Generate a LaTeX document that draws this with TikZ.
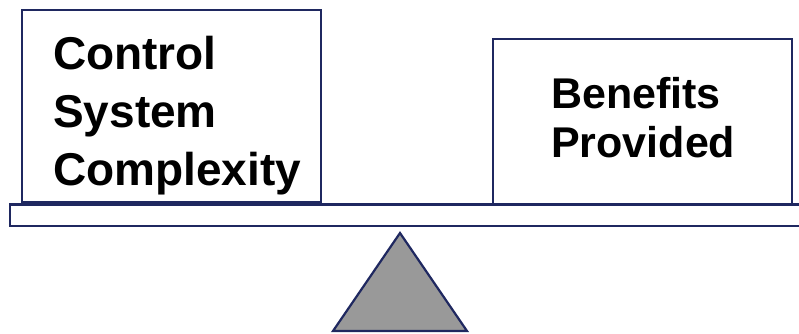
\documentclass[tikz,border=0pt]{standalone}
\usepackage{fontspec}
\setmainfont{Liberation Sans}
\definecolor{navy}{RGB}{31,40,96}
\definecolor{pivotgray}{RGB}{153,153,153}
\tikzset{
  frame/.style={draw=navy, line width=2.2pt},
  weight/.style={font=\bfseries\fontsize{46}{58}\selectfont, align=left, inner sep=0pt, anchor=base west},
}
\begin{document}
\begin{tikzpicture}[x=1pt, y=-1pt]
  \useasboundingbox (0,0) rectangle (799,334);
  \begin{scope}
    \clip (0,0) rectangle (799,334);
    % lever beam, running off the right edge
    \draw[frame, fill=white] (10,204.5) rectangle (815,226);
    % fulcrum
    \coordinate (apex) at (400,233);
    \coordinate (baseL) at (333,331);
    \coordinate (baseR) at (467,331);
    \draw[frame, fill=pivotgray, line join=miter] (apex) -- (baseL) -- (baseR) -- cycle;
    % loads on the lever
    \draw[frame, fill=white] (22,10) rectangle (321,202);
    \draw[frame, fill=white] (493,39) rectangle (792,204.5);
  \end{scope}
  % the node's base is the baseline of its last line
  \node[weight] (cost) at (53,185) {Control\\System\\Complexity};
  \node[weight, font=\bfseries\fontsize{43}{49}\selectfont] (gain) at (551,157) {Benefits\\Provided};
\end{tikzpicture}
\end{document}
